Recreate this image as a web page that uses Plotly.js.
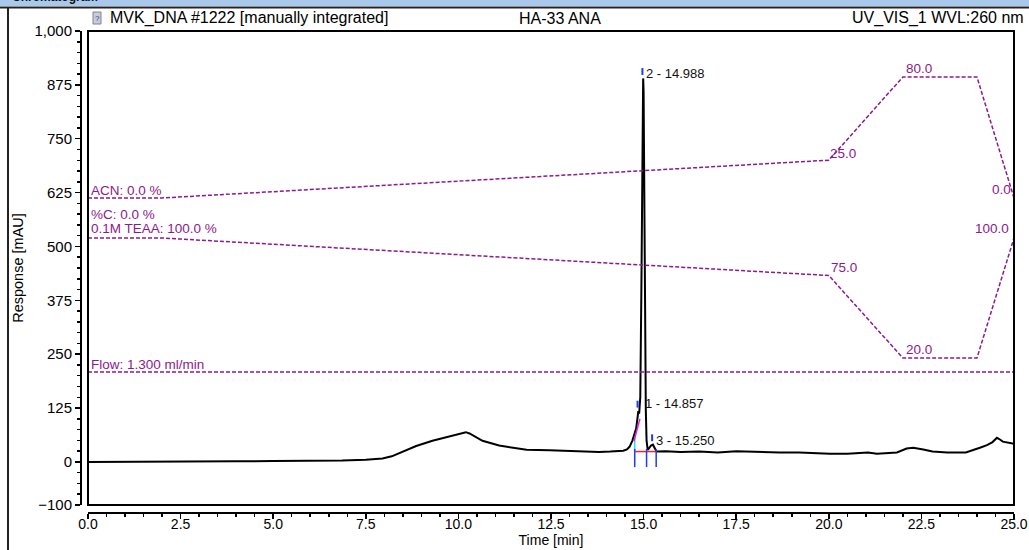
<!DOCTYPE html>
<html>
<head>
<meta charset="utf-8">
<script src="https://cdn.plot.ly/plotly-3.0.1.min.js"></script>
<style>
html,body{margin:0;padding:0;background:#fff;}
#chart{width:1029px;height:550px;}
</style>
</head>
<body>
<div id="chart"></div>
<script>
// ---------------- data ----------------
const timeMin = [0.0, 0.5, 1.0, 2.0, 3.0, 4.0, 5.0, 6.0, 6.86, 7.5, 7.95, 8.2, 8.5, 8.86, 9.3, 9.76, 10.0, 10.2, 10.3, 10.45, 10.65, 11.1, 11.5, 11.84, 12.46, 13.0, 13.8, 14.1, 14.45, 14.55, 14.62, 14.7, 14.75, 14.8, 14.84, 14.857, 14.88, 14.91, 14.94, 14.97, 14.988, 15.0, 15.02, 15.04, 15.06, 15.08, 15.11, 15.15, 15.2, 15.25, 15.3, 15.35, 15.6, 16.0, 16.5, 17.0, 17.5, 18.0, 18.68, 19.2, 19.6, 20.03, 20.5, 20.84, 21.06, 21.3, 21.6, 21.84, 22.1, 22.28, 22.55, 22.8, 23.2, 23.7, 24.08, 24.27, 24.42, 24.54, 24.62, 24.7, 25.0];
const responseMAU = [0, 0, 0.5, 1, 1, 1.5, 2, 2, 3, 5, 8, 13, 24, 37, 49, 59, 64, 69, 66, 58, 49, 38, 32, 28, 27, 25, 23, 24, 26, 29, 35, 50, 62, 78, 105, 118, 112, 150, 400, 800, 890, 860, 600, 300, 120, 50, 28, 32, 38, 40, 30, 24, 25, 23, 24, 22, 25, 23, 22, 22, 20, 19, 19, 20, 22, 19, 20, 22, 31, 33, 29, 24, 22, 22, 33, 39, 46, 56, 52, 47, 42];

const peakNames = ["1", "2", "3"];
const peakTimes = [14.857, 14.988, 15.250];
const peakHeights = [118, 890, 40];
const integBounds = [14.76, 15.08, 15.34];
const baselineLevel = 24;

const acnTime = [0, 2, 20, 22, 24, 25];
const acnPct = [0, 0, 25, 80, 80, 0];
const teaaTime = [0, 2, 20, 22, 24, 25];
const teaaPct = [100, 100, 75, 20, 20, 100];
const flowTime = [0, 25];
const flowVal = [1.3, 1.3];

const yTicks = [-100, 0, 125, 250, 375, 500, 625, 750, 875, 1000];

// ---------------- layout helpers ----------------
const W = 1029, H = 550, L = 80, R = 15, T = 31, B = 38;
const pw = W - L - R, ph = H - T - B;
const px = p => (p - L) / pw;
const py = p => (H - B - p) / ph;
const PURPLE = '#8c1a8c';
const FONT = 'Liberation Sans, Arial, sans-serif';
const NARROW = 'Liberation Sans Narrow, Arial Narrow, Liberation Sans, Arial, sans-serif';

const traces = [
  {x: flowTime, y: flowVal, yaxis: 'y4', mode: 'lines', line: {color: PURPLE, width: 1.3, dash: '4px,2px'}, hoverinfo: 'skip'},
  {x: acnTime, y: acnPct, yaxis: 'y2', mode: 'lines', line: {color: PURPLE, width: 1.5, dash: '4px,2px'}, hoverinfo: 'skip'},
  {x: teaaTime, y: teaaPct, yaxis: 'y3', mode: 'lines', line: {color: PURPLE, width: 1.5, dash: '4px,2px'}, hoverinfo: 'skip'},
  {x: timeMin, y: responseMAU, mode: 'lines', line: {color: '#000', width: 2}, hoverinfo: 'skip'}
];

const shapes = [
  // top window strip
  {type: 'rect', xref: 'paper', yref: 'paper', x0: px(0), x1: px(W), y0: py(0), y1: py(6), fillcolor: '#a9c9ec', line: {width: 0}, layer: 'below'},
  {type: 'line', xref: 'paper', yref: 'paper', x0: px(0), x1: px(W), y0: py(7.5), y1: py(7.5), line: {color: '#222', width: 2}},
  {type: 'line', xref: 'paper', yref: 'paper', x0: px(8), x1: px(8), y0: py(7.5), y1: py(H), line: {color: '#222', width: 2}},
  // plot frame
  {type: 'rect', xref: 'x domain', yref: 'y domain', x0: 0, x1: 1, y0: 0, y1: 1, line: {color: '#000', width: 2}},
  // icon
  {type: 'rect', xref: 'paper', yref: 'paper', x0: px(93), x1: px(101), y0: py(24), y1: py(12), fillcolor: '#c9ccd3', line: {color: '#7d8595', width: 1}},
  // integration baseline
  {type: 'line', xref: 'x', yref: 'y', x0: integBounds[0], x1: integBounds[2], y0: baselineLevel, y1: baselineLevel, line: {color: '#ff2020', width: 1.5}},
  {type: 'line', xref: 'x', yref: 'y', x0: integBounds[0], x1: integBounds[0], y0: baselineLevel, y1: 56, line: {color: '#20e0e8', width: 1.5}},
  {type: 'line', xref: 'x', yref: 'y', x0: 14.74, x1: 14.9, y0: 48, y1: 100, line: {color: '#e020e0', width: 1.5}}
];
// apex markers
peakTimes.forEach((t, i) => {
  shapes.push({type: 'line', xref: 'x', yref: 'y', x0: t - 0.02, x1: t - 0.02, y0: peakHeights[i] + 8, y1: peakHeights[i] + 24, line: {color: '#1a3cff', width: 2}});
});
// boundary markers
integBounds.forEach(t => {
  shapes.push({type: 'line', xref: 'x', yref: 'y', x0: t, x1: t, y0: -12, y1: 30, line: {color: '#1a3cff', width: 1.5}});
});

const ann = (o) => Object.assign({showarrow: false, font: {family: FONT, size: 13.5, color: PURPLE}}, o);
const annotations = [
  // header
  {xref: 'paper', yref: 'paper', x: px(10), y: py(-3), xanchor: 'left', yanchor: 'middle', text: '<b>Chromatogram</b>', showarrow: false, font: {family: FONT, size: 12, color: '#111'}},
  {xref: 'paper', yref: 'paper', x: px(97), y: py(18), xanchor: 'center', yanchor: 'middle', text: '?', showarrow: false, font: {family: FONT, size: 8, color: '#2040c0'}},
  {xref: 'paper', yref: 'paper', x: px(108), y: py(18), xanchor: 'left', yanchor: 'middle', text: 'MVK_DNA #1222 [manually integrated]', showarrow: false, font: {family: FONT, size: 16, color: '#000'}},
  {xref: 'paper', yref: 'paper', x: px(560), y: py(18), xanchor: 'center', yanchor: 'middle', text: 'HA-33 ANA', showarrow: false, font: {family: FONT, size: 16, color: '#000'}},
  {xref: 'paper', yref: 'paper', x: px(1026), y: py(18), xanchor: 'right', yanchor: 'middle', text: 'UV_VIS_1 WVL:260 nm', showarrow: false, font: {family: FONT, size: 16, color: '#000'}},
  // gradient labels
  ann({xref: 'x', yref: 'y2', x: 0.02, y: acnPct[0], xanchor: 'left', yanchor: 'bottom', yshift: -2, text: 'ACN: ' + acnPct[0].toFixed(1) + ' %'}),
  ann({xref: 'x', yref: 'y3', x: 0.02, y: teaaPct[0], xanchor: 'left', yanchor: 'bottom', yshift: 14, text: '%C: 0.0 %'}),
  ann({xref: 'x', yref: 'y3', x: 0.02, y: teaaPct[0], xanchor: 'left', yanchor: 'bottom', yshift: 0, text: '0.1M TEAA: ' + teaaPct[0].toFixed(1) + ' %'}),
  ann({xref: 'x', yref: 'y4', x: 0.02, y: flowVal[0], xanchor: 'left', yanchor: 'bottom', yshift: -2, text: 'Flow: ' + flowVal[0].toFixed(3) + ' ml/min'}),
  ann({xref: 'x', yref: 'y2', x: acnTime[2], y: acnPct[2], xanchor: 'left', yanchor: 'bottom', xshift: -1, yshift: -3, text: acnPct[2].toFixed(1)}),
  ann({xref: 'x', yref: 'y2', x: acnTime[3], y: acnPct[3], xanchor: 'left', yanchor: 'bottom', xshift: 1, yshift: -1, text: acnPct[3].toFixed(1)}),
  ann({xref: 'x', yref: 'y2', x: acnTime[5], y: acnPct[5], xanchor: 'right', yanchor: 'bottom', xshift: -1, yshift: -1, text: acnPct[5].toFixed(1)}),
  ann({xref: 'x', yref: 'y3', x: teaaTime[2], y: teaaPct[2], xanchor: 'left', yanchor: 'bottom', xshift: 0, yshift: -1, text: teaaPct[2].toFixed(1)}),
  ann({xref: 'x', yref: 'y3', x: teaaTime[3], y: teaaPct[3], xanchor: 'left', yanchor: 'bottom', xshift: 1, yshift: -1, text: teaaPct[3].toFixed(1)}),
  ann({xref: 'x', yref: 'y3', x: teaaTime[5], y: teaaPct[5], xanchor: 'right', yanchor: 'bottom', xshift: -3, yshift: 0, text: teaaPct[5].toFixed(1)})
];
// peak labels
const peakOffsets = [[0.12, 1], [0.03, -2], [0.02, -3]];
peakTimes.forEach((t, i) => {
  annotations.push({xref: 'x', yref: 'y', x: t + peakOffsets[i][0], y: peakHeights[i] + 16, yshift: peakOffsets[i][1], xanchor: 'left', yanchor: 'middle', showarrow: false,
    text: peakNames[i] + ' - ' + t.toFixed(3), font: {family: FONT, size: 13, color: '#111'}});
});

const layout = {
  width: W, height: H,
  margin: {l: L, r: R, t: T, b: B, pad: 0},
  paper_bgcolor: '#fff', plot_bgcolor: '#fff',
  showlegend: false,
  hovermode: false,
  font: {family: FONT, color: '#000'},
  xaxis: {
    domain: [8 / pw, 1], anchor: 'free', position: 0,
    range: [0, 25], dtick: 2.5, tick0: 0, tickformat: '.1f',
    showgrid: false, zeroline: false,
    showline: true, linecolor: '#000', linewidth: 1.5,
    ticks: 'outside', ticklen: 5, tickwidth: 1.5, tickcolor: '#000',
    ticklabelstandoff: -6,
    minor: {dtick: 0.5, tick0: 0, ticks: 'outside', ticklen: 3, tickwidth: 1.5, tickcolor: '#000', showgrid: false},
    tickfont: {family: NARROW, size: 14, color: '#000'},
    title: {text: 'Time [min]', font: {family: NARROW, size: 14, color: '#000'}, standoff: 3}
  },
  yaxis: {
    domain: [7 / ph, 1], anchor: 'free', position: 0,
    range: [-100, 1000], tickvals: yTicks, tickformat: ',d',
    showgrid: false, zeroline: false,
    showline: true, linecolor: '#000', linewidth: 1.5,
    ticks: 'outside', ticklen: 5, tickwidth: 1.5, tickcolor: '#000',
    minor: {dtick: 25, tick0: 0, ticks: 'outside', ticklen: 3, tickwidth: 1.5, tickcolor: '#000', showgrid: false},
    tickfont: {family: FONT, size: 15, color: '#000'},
    title: {text: 'Response [mAU]', font: {family: FONT, size: 14.5, color: '#000'}, standoff: 6}
  },
  yaxis2: {overlaying: 'y', anchor: 'x', range: [-203, 110.4], visible: false, fixedrange: true},
  yaxis3: {overlaying: 'y', anchor: 'x', range: [-78, 238], visible: false, fixedrange: true},
  yaxis4: {overlaying: 'y', anchor: 'x', range: [0, 4.633], visible: false, fixedrange: true},
  shapes: shapes,
  annotations: annotations
};

Plotly.newPlot('chart', traces, layout, {staticPlot: true, displayModeBar: false});
</script>
</body>
</html>
